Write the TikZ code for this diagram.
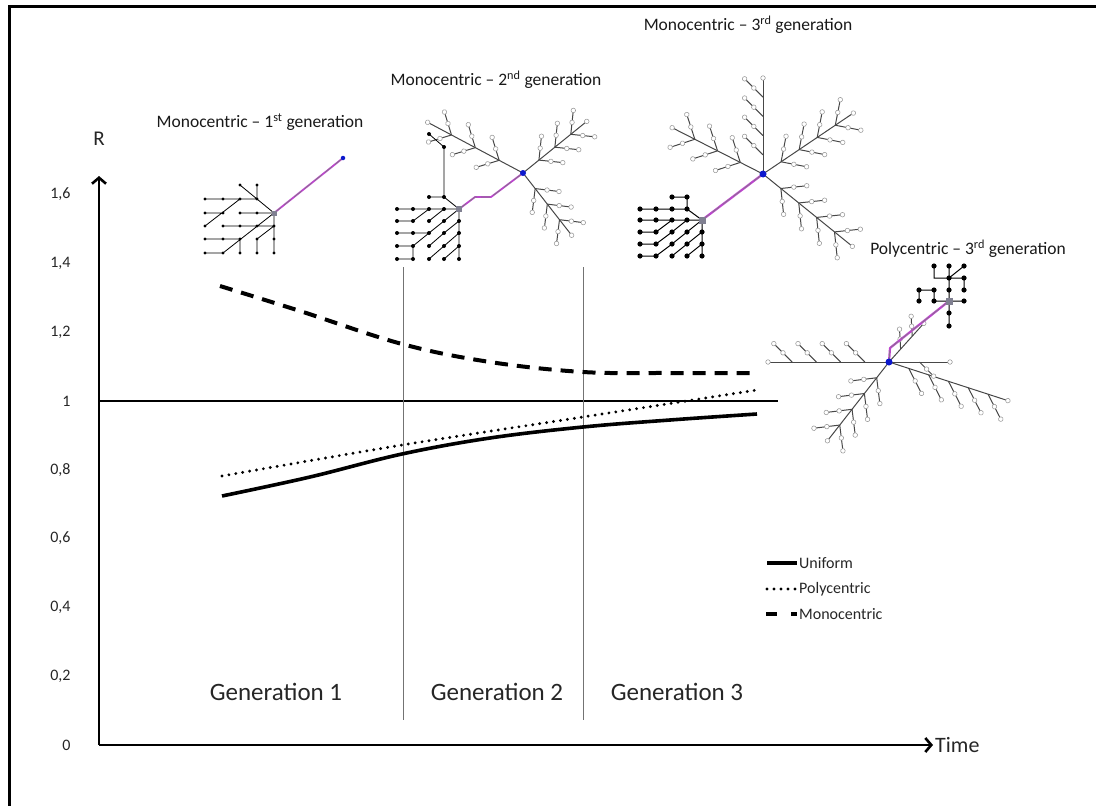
\documentclass[tikz,border=0pt]{standalone}
\usepackage{fontspec}
\setmainfont{Carlito}
\usetikzlibrary{arrows.meta}

\definecolor{linkpurple}{RGB}{188,70,205}
\definecolor{hubblue}{RGB}{12,24,205}
\definecolor{rootgray}{RGB}{128,128,145}

% one gray branch with ribs: hub, angle, spine length, ribs, rib length, rib sides
\newcommand{\fishbone}[6]{%
  \begin{scope}[shift={(#1)}, rotate=#2]
    \draw[treeline] (0,0) -- (#3,0) coordinate (tip);
    \foreach \k in {1,...,#4}
      \foreach \s in {#6} {
        \draw[treeline] ({#3*\k/(#4+1)},0) -- ++({\s}:{#5/2}) coordinate (mid)
          -- ++({\s}:{#5/2}) coordinate (end);
        \draw[gring] (mid) circle[radius=2.3pt] (end) circle[radius=2.3pt];
      }
    \draw[gring] (tip) circle[radius=2.3pt];
  \end{scope}}

\begin{document}
\begin{tikzpicture}[x=1pt, y=-1pt,
  frame/.style={line width=3pt},
  axis/.style={line width=2.6pt, -{Straight Barb[length=6pt, width=14pt]}},
  unity/.style={line width=2pt},
  sep/.style={black!55, line width=0.9pt},
  uniform/.style={line width=3.6pt},
  poly/.style={line width=3.2pt, line cap=round, dash pattern=on 0pt off 7pt},
  mono/.style={line width=4pt, dash pattern=on 13pt off 9pt},
  ticklabel/.style={anchor=east, text=black!85, font=\fontsize{16}{19}\selectfont},
  axislabel/.style={text=black!85, font=\fontsize{22}{26}\selectfont},
  genlabel/.style={text=black!85, font=\fontsize{25}{30}\selectfont},
  legendtext/.style={anchor=west, inner sep=1pt, text=black!85, font=\fontsize{16}{19}\selectfont},
  title/.style={text=black!90, font=\fontsize{17.5}{21}\selectfont},
  treeline/.style={black!72, line width=1pt},
  gring/.style={draw=black!40, fill=white, line width=0.55pt},
  bline/.style={black, line width=0.8pt},
  link/.style={linkpurple, line width=1.8pt, line join=round,
    postaction={draw, black!50, line width=0.6pt, dash pattern=on 9pt off 4pt}},
  hub/.style={circle, fill=hubblue, inner sep=0pt, minimum size=#1},
  hub/.default=6pt,
  root/.style={rectangle, fill=rootgray, inner sep=0pt, minimum size=#1},
  root/.default=6pt]

\useasboundingbox (0,0) rectangle (1096,806);
\draw[frame] (1096,6.5) -- (9.5,6.5) -- (9.5,806);

% axes
\coordinate (O) at (99,745);
\coordinate (ytop) at (99,176);
\coordinate (xend) at (933,745);
\draw[axis] (O) -- (ytop);
\draw[axis] (O) -- (xend);
\node[axislabel, anchor=west, inner sep=2pt] (time) at (xend) {Time};
\node[axislabel, font=\fontsize{21}{25}\selectfont] (R) at (99,139) {R};
\foreach \t [count=\i from 0] in {0,{0,2},{0,4},{0,6},{0,8},1,{1,2},{1,4},{1,6}}
  \node[ticklabel] (tick\i) at (74,{745-68.8*\i}) {\t};

% R = 1 and the generations
\draw[unity] (99,401) -- (778,401);
\draw[sep] (403,267) -- (403,720);
\draw[sep] (583,267) -- (583,720);
\node[genlabel] (gen1) at (276,692) {Generation 1};
\node[genlabel] (gen2) at (497,692) {Generation 2};
\node[genlabel] (gen3) at (677,692) {Generation 3};

% curves
\draw[mono] plot[smooth, tension=0.6] coordinates
  {(220,286) (300,311) (402,344) (490,362) (583,372) (670,373) (757,373)};
\draw[poly] plot[smooth] coordinates
  {(222,476) (402,445) (583,417) (757,390)};
\draw[uniform] plot[smooth, tension=0.6] coordinates
  {(222,496) (310,477) (402,454) (490,438) (583,427) (670,420) (757,414)};

% legend
\draw[uniform] (767,563) -- (797,563);
\node[legendtext] (legU) at (798,563) {Uniform};
\draw[poly] (767,589) -- (797,589);
\node[legendtext] (legP) at (798,589) {Polycentric};
\draw[mono, dash pattern=on 11pt off 14pt] (766,614) -- (797,614);
\node[legendtext] (legM) at (798,614) {Monocentric};

% titles
\node[title] (titleA) at (260,122) {Monocentric -- 1\textsuperscript{st} generation};
\node[title] (titleB) at (496,80) {Monocentric -- 2\textsuperscript{nd} generation};
\node[title] (titleC) at (748,25) {Monocentric -- 3\textsuperscript{rd} generation};
\node[title] (titleD) at (968,249) {Polycentric -- 3\textsuperscript{rd} generation};

% network A
\coordinate (rootA) at (274,213);
\coordinate (hubA) at (343,158);
\draw[bline] (240,185) -- (257,199) (257,185) -- (257,199)
  (205,199) -- (257,199) -- (rootA)
  (205,226) -- (240,199)
  (205,213) -- (223,213)
  (240,213) -- (rootA)
  (223,226) -- (274,226) -- (rootA)
  (rootA) -- (223,253)
  (205,239) -- (240,239) -- (240,253)
  (257,253) -- (257,239) -- (274,226) -- (274,253)
  (205,253) -- (223,253);
\foreach \p in {(240,185),(257,185),(205,199),(223,199),(240,199),(257,199),
  (205,213),(223,213),(240,213),(257,213),(205,226),(223,226),(240,226),(257,226),
  (274,226),(205,239),(223,239),(240,239),(257,239),(274,239),(205,253),(223,253),
  (240,253),(257,253),(274,253)}
  \fill \p circle[radius=1.7pt];
\draw[link] (rootA) -- (hubA);
\node[root=5pt] (rA) at (rootA) {};
\node[hub=4.5pt] (hA) at (hubA) {};

% network B
\coordinate (rootB) at (459,209);
\coordinate (hubB) at (523,173);
\fishbone{hubB}{39}{82}{3}{24}{45,-45}
\fishbone{hubB}{152}{108}{3}{24}{45,-45}
\fishbone{hubB}{-52}{79}{3}{24}{45,-45}
\draw[bline] (397,209) -- (rootB)
  (397,221) -- (413,221) -- (429,209)
  (429,221) -- (444,209)
  (444,221) -- (rootB)
  (397,233) -- (429,233) -- (444,221)
  (rootB) -- (459,259)
  (397,246) -- (413,246) -- (429,233)
  (429,246) -- (444,233) -- (459,221)
  (444,246) -- (459,233)
  (397,259) -- (413,259) -- (413,246)
  (429,259) -- (444,246)
  (444,259) -- (459,246)
  (rootB) -- (444,197) -- (429,197) (444,197) -- (444,147) -- (429,134);
\foreach \x in {397,413,429,444,459}
  \foreach \y in {209,221,233,246,259}
    \fill (\x,\y) circle[radius=2pt];
\foreach \p in {(444,197),(429,197),(444,147),(429,134)}
  \fill \p circle[radius=2pt];
\draw[link] (rootB) -- (475,197) -- (491,197) -- (hubB);
\node[root] (rB) at (rootB) {};
\node[hub] (hB) at (hubB) {};

% network C
\coordinate (rootC) at (702,220);
\coordinate (hubC) at (763,174);
\fishbone{hubC}{90}{96}{4}{26}{-45}
\fishbone{hubC}{153}{102}{3}{26}{45,-45}
\fishbone{hubC}{34}{109}{4}{26}{45,-45}
\fishbone{hubC}{-39}{115}{4}{26}{45,-45}
\draw[bline, line width=1pt] (672,197) -- (687,197) -- (687,209)
  (640,209) -- (687,209) -- (rootC)
  (640,220) -- (rootC)
  (640,232) -- (656,232) -- (672,220)
  (672,232) -- (687,220)
  (687,232) -- (rootC)
  (rootC) -- (702,256)
  (640,244) -- (656,244) -- (672,232)
  (672,244) -- (687,232)
  (687,244) -- (702,232)
  (640,256) -- (656,256) -- (672,244)
  (672,256) -- (687,244)
  (687,256) -- (702,244);
\foreach \x in {640,656,672,687,702}
  \foreach \y in {220,232,244,256}
    \fill (\x,\y) circle[radius=2.6pt];
\foreach \p in {(672,197),(687,197),(640,209),(656,209),(672,209),(687,209)}
  \fill \p circle[radius=2.6pt];
\draw[link, line width=2.2pt] (rootC) -- (hubC);
\node[root=7pt] (rC) at (rootC) {};
\node[hub=7pt] (hC) at (hubC) {};

% network D
\coordinate (rootD) at (949,301);
\coordinate (hubD) at (889,362);
\fishbone{hubD}{180}{121}{4}{26}{45}
\fishbone{hubD}{-18}{125}{5}{28}{45}
\fishbone{hubD}{0}{61}{1}{20}{45}
\fishbone{hubD}{-128}{100}{4}{26}{45,-45}
\fishbone{hubD}{48}{52}{2}{20}{-45}
\draw[bline, line width=1pt] (949,266) -- (949,326)
  (934,266) -- (934,278) -- (964,278)
  (964,266) -- (949,278)
  (964,278) -- (964,290)
  (919,290) -- (934,290) -- (934,301)
  (919,301) -- (919,290)
  (934,301) -- (964,301);
\foreach \p in {(934,266),(949,266),(964,266),(949,278),(964,278),(919,290),
  (934,290),(949,290),(964,290),(919,301),(934,301),(964,301),(949,313),(949,326)}
  \fill \p circle[radius=2.6pt];
\draw[link, line width=2.2pt] (rootD) -- (890,348) -- (hubD);
\node[root=7pt] (rD) at (rootD) {};
\node[hub=7pt] (hD) at (hubD) {};

\end{tikzpicture}
\end{document}
